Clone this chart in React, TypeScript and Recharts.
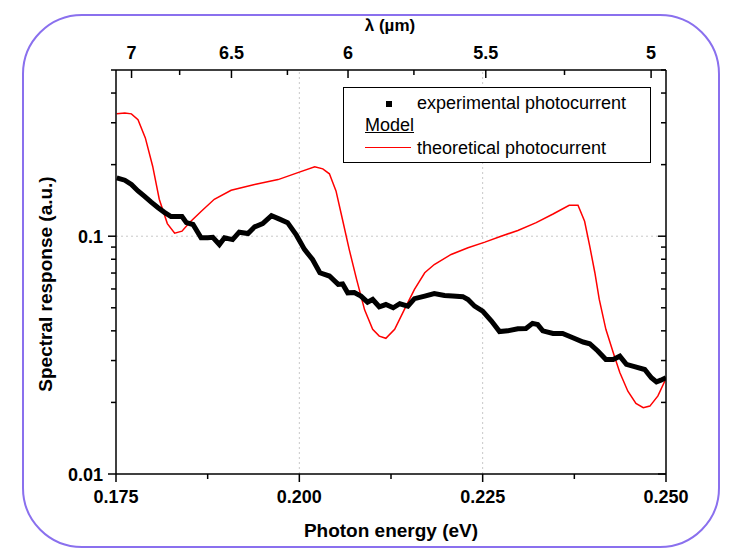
import React from 'react';
import { ComposedChart, Line, XAxis, YAxis, ReferenceLine, Legend } from 'recharts';

// ---- data ----
const expEnergy = [0.1751, 0.1762, 0.1771, 0.178, 0.1789, 0.1798, 0.1807, 0.1816, 0.1825, 0.1832, 0.184, 0.1846, 0.1855, 0.1866, 0.1875, 0.1882, 0.1891, 0.1898, 0.1909, 0.1918, 0.193, 0.1939, 0.195, 0.1962, 0.1973, 0.1984, 0.1996, 0.2007, 0.2018, 0.2028, 0.2041, 0.2053, 0.2059, 0.2066, 0.2075, 0.2084, 0.2093, 0.21, 0.2109, 0.2118, 0.2128, 0.2137, 0.2148, 0.2157, 0.2171, 0.2184, 0.2198, 0.2209, 0.2223, 0.223, 0.2239, 0.225, 0.2262, 0.2273, 0.2284, 0.2298, 0.2309, 0.2318, 0.2325, 0.2332, 0.2346, 0.2359, 0.2373, 0.2387, 0.2396, 0.2407, 0.2418, 0.2428, 0.2437, 0.2446, 0.2457, 0.2471, 0.248, 0.2487, 0.2493, 0.25];
const expValues = [0.176, 0.172, 0.165, 0.155, 0.147, 0.139, 0.132, 0.126, 0.121, 0.121, 0.121, 0.114, 0.112, 0.0985, 0.0985, 0.099, 0.0923, 0.0985, 0.0968, 0.104, 0.1026, 0.1095, 0.113, 0.122, 0.118, 0.114, 0.101, 0.088, 0.0798, 0.0702, 0.068, 0.0627, 0.063, 0.0578, 0.058, 0.056, 0.0528, 0.0542, 0.0505, 0.0516, 0.05, 0.052, 0.0508, 0.0546, 0.056, 0.0574, 0.0563, 0.056, 0.0557, 0.0542, 0.0508, 0.0484, 0.044, 0.0397, 0.04, 0.0408, 0.0409, 0.043, 0.0425, 0.04, 0.039, 0.039, 0.0374, 0.0359, 0.0353, 0.0329, 0.0303, 0.0303, 0.0313, 0.0289, 0.0283, 0.0275, 0.0254, 0.0244, 0.0248, 0.0254];

const thEnergy = [0.1751, 0.1762, 0.1771, 0.178, 0.179, 0.18, 0.1809, 0.182, 0.183, 0.184, 0.185, 0.1866, 0.1884, 0.1907, 0.1939, 0.1971, 0.2, 0.2021, 0.2032, 0.2041, 0.205, 0.2059, 0.2068, 0.2078, 0.2089, 0.21, 0.2109, 0.2118, 0.213, 0.2143, 0.2157, 0.2171, 0.2184, 0.2207, 0.223, 0.2253, 0.2275, 0.2298, 0.2323, 0.2346, 0.2368, 0.238, 0.2389, 0.2396, 0.2403, 0.2409, 0.2418, 0.2428, 0.2437, 0.2448, 0.2459, 0.2469, 0.2478, 0.2489, 0.25];
const thValues = [0.327, 0.33, 0.327, 0.309, 0.259, 0.197, 0.143, 0.113, 0.103, 0.105, 0.114, 0.127, 0.143, 0.156, 0.165, 0.173, 0.186, 0.196, 0.192, 0.183, 0.155, 0.117, 0.088, 0.066, 0.049, 0.0406, 0.038, 0.0372, 0.0406, 0.049, 0.0597, 0.0702, 0.076, 0.0838, 0.0894, 0.0944, 0.1, 0.1057, 0.114, 0.124, 0.135, 0.135, 0.1156, 0.0908, 0.0702, 0.0542, 0.0406, 0.0324, 0.0267, 0.0223, 0.0198, 0.019, 0.0193, 0.0213, 0.0252];

const energyMajorTicks = [0.175, 0.2, 0.225, 0.25];
const energyMinorTicks = [0.1875, 0.2125, 0.2375];
const energyGrid = [0.2, 0.225];
const lambdaMajorTicks = [7, 6.5, 6, 5.5, 5];
const lambdaMinorTicks = [6.75, 6.25, 5.75, 5.25];
const yMajorTicks = [0.01, 0.1];
const yMinorTicks = [0.02, 0.03, 0.04, 0.05, 0.06, 0.07, 0.08, 0.09, 0.2, 0.3, 0.4, 0.5];
const yGrid = [0.1];
const HC = 1.23984; // eV·µm

const expData = expEnergy.map((e, i) => ({ e, v: expValues[i] }));
const thData = thEnergy.map((e, i) => ({ e, v: thValues[i] }));
const bottomTicks = [...energyMajorTicks, ...energyMinorTicks];
const topMajorE = lambdaMajorTicks.map((l) => HC / l);
const topTicks = [...topMajorE, ...lambdaMinorTicks.map((l) => HC / l)];
const yTicks = [...yMajorTicks, ...yMinorTicks];

const FONT = '"Liberation Sans", Arial, Helvetica, sans-serif';

const BottomTick = (props: any) => {
  const { x, y, payload } = props;
  const major = energyMajorTicks.includes(payload.value);
  return (
    <g>
      <line x1={x} x2={x} y1={y} y2={y + (major ? 8 : 5)} stroke="#000" strokeWidth={1.5} />
      {major && (
        <text x={x} y={y + 29} textAnchor="middle" fontFamily={FONT} fontWeight="bold" fontSize={18} fill="#000">
          {payload.value.toFixed(3)}
        </text>
      )}
    </g>
  );
};

const TopTick = (props: any) => {
  const { x, y, payload } = props;
  const idx = topMajorE.indexOf(payload.value);
  const major = idx >= 0;
  return (
    <g>
      <line x1={x} x2={x} y1={y} y2={y + (major ? 8 : 5)} stroke="#000" strokeWidth={1.5} />
      {major && (
        <text x={x} y={y - 11} textAnchor="middle" fontFamily={FONT} fontWeight="bold" fontSize={18} fill="#000">
          {String(lambdaMajorTicks[idx])}
        </text>
      )}
    </g>
  );
};

const LeftTick = (props: any) => {
  const { x, y, payload } = props;
  const major = yMajorTicks.includes(payload.value);
  return (
    <g>
      <line x1={x} x2={x - (major ? 8 : 5)} y1={y} y2={y} stroke="#000" strokeWidth={1.5} />
      {major && (
        <text x={x - 13} y={y + 6.5} textAnchor="end" fontFamily={FONT} fontWeight="bold" fontSize={18} fill="#000">
          {String(payload.value)}
        </text>
      )}
    </g>
  );
};

const RightTick = (props: any) => {
  const { x, y, payload } = props;
  const major = yMajorTicks.includes(payload.value);
  return <line x1={x} x2={x - (major ? 8 : 5)} y1={y} y2={y} stroke="#000" strokeWidth={1.5} />;
};

const LegendBox = () => (
  <div
    style={{
      position: 'relative',
      width: 308,
      height: 76,
      border: '1.5px solid #000',
      background: '#fff',
      boxSizing: 'border-box',
      fontFamily: FONT,
      fontSize: 18,
      color: '#000',
    }}
  >
    <div style={{ position: 'absolute', left: 42, top: 12.5, width: 6, height: 6, background: '#000' }} />
    <div style={{ position: 'absolute', left: 73, top: 4, lineHeight: '22px', whiteSpace: 'nowrap' }}>
      experimental photocurrent
    </div>
    <div style={{ position: 'absolute', left: 21, top: 26, lineHeight: '22px', textDecoration: 'underline', whiteSpace: 'nowrap' }}>
      Model
    </div>
    <div style={{ position: 'absolute', left: 21, top: 59, width: 46, height: 0, borderTop: '1.5px solid #ff0000' }} />
    <div style={{ position: 'absolute', left: 73, top: 49, lineHeight: '22px', whiteSpace: 'nowrap' }}>
      theoretical photocurrent
    </div>
  </div>
);

export default function App() {
  return (
    <div style={{ position: 'absolute', left: 0, top: 0, width: 729, height: 554, background: '#fff' }}>
      <div
        style={{
          position: 'absolute',
          left: 22,
          top: 14,
          width: 698,
          height: 534,
          border: '2px solid #8a70ee',
          borderRadius: 60,
          boxSizing: 'border-box',
        }}
      />
      <div style={{ position: 'absolute', left: 0, top: 0 }}>
        <ComposedChart width={729} height={554} margin={{ top: 0, right: 0, bottom: 0, left: 0 }}>
          <XAxis
            xAxisId="bottom"
            orientation="bottom"
            type="number"
            dataKey="e"
            domain={[0.175, 0.25]}
            allowDataOverflow
            ticks={bottomTicks}
            interval={0}
            height={80}
            tickSize={0}
            tickMargin={0}
            tickLine={false}
            tick={<BottomTick />}
            axisLine={{ stroke: '#000', strokeWidth: 1.5 }}
            label={{
              content: (p: any) => (
                <text
                  x={p.viewBox.x + p.viewBox.width / 2}
                  y={p.viewBox.y + 63}
                  textAnchor="middle"
                  fontFamily={FONT}
                  fontWeight="bold"
                  fontSize={19}
                  fill="#000"
                >
                  Photon energy (eV)
                </text>
              ),
            }}
          />
          <XAxis
            xAxisId="top"
            orientation="top"
            type="number"
            dataKey="e"
            domain={[0.175, 0.25]}
            allowDataOverflow
            ticks={topTicks}
            interval={0}
            height={70}
            tickSize={0}
            tickMargin={0}
            tickLine={false}
            tick={<TopTick />}
            axisLine={{ stroke: '#000', strokeWidth: 1.5 }}
            label={{
              content: (p: any) => (
                <text
                  x={p.viewBox.x + p.viewBox.width / 2 - 1}
                  y={p.viewBox.y + 31}
                  textAnchor="middle"
                  fontFamily={FONT}
                  fontWeight="bold"
                  fontSize={17}
                  fill="#000"
                >
                  λ (µm)
                </text>
              ),
            }}
          />
          <YAxis
            yAxisId="left"
            orientation="left"
            type="number"
            scale="log"
            domain={[0.01, 0.5]}
            allowDataOverflow
            ticks={yTicks}
            interval={0}
            width={116}
            tickSize={0}
            tickMargin={0}
            tickLine={false}
            tick={<LeftTick />}
            axisLine={{ stroke: '#000', strokeWidth: 1.5 }}
            label={{
              content: (p: any) => (
                <text
                  x={45}
                  y={p.viewBox.y + p.viewBox.height / 2 + 12}
                  transform={`rotate(-90, 45, ${p.viewBox.y + p.viewBox.height / 2 + 12})`}
                  textAnchor="middle"
                  dominantBaseline="central"
                  fontFamily={FONT}
                  fontWeight="bold"
                  fontSize={19}
                  fill="#000"
                >
                  Spectral response (a.u.)
                </text>
              ),
            }}
          />
          <YAxis
            yAxisId="right"
            orientation="right"
            type="number"
            scale="log"
            domain={[0.01, 0.5]}
            allowDataOverflow
            ticks={yTicks}
            interval={0}
            width={63}
            tickSize={0}
            tickMargin={0}
            tickLine={false}
            tick={<RightTick />}
            axisLine={{ stroke: '#000', strokeWidth: 1.5 }}
          />
          {energyGrid.map((g) => (
            <ReferenceLine
              key={'gx' + g}
              x={g}
              xAxisId="bottom"
              yAxisId="left"
              stroke="#c8c8c8"
              strokeDasharray="2 3"
              strokeWidth={1}
            />
          ))}
          {yGrid.map((g) => (
            <ReferenceLine
              key={'gy' + g}
              y={g}
              xAxisId="bottom"
              yAxisId="left"
              stroke="#c8c8c8"
              strokeDasharray="2 3"
              strokeWidth={1}
            />
          ))}
          <Line
            data={thData}
            dataKey="v"
            xAxisId="bottom"
            yAxisId="left"
            type="linear"
            stroke="#ff0000"
            strokeWidth={1.5}
            dot={false}
            isAnimationActive={false}
            name="theoretical photocurrent"
          />
          <Line
            data={expData}
            dataKey="v"
            xAxisId="bottom"
            yAxisId="left"
            type="linear"
            stroke="#000"
            strokeWidth={5}
            dot={false}
            isAnimationActive={false}
            name="experimental photocurrent"
          />
          <Legend
            layout="horizontal"
            verticalAlign="middle"
            align="center"
            content={() => <LegendBox />}
            wrapperStyle={{ left: 343, top: 87, width: 308, height: 76 }}
          />
        </ComposedChart>
      </div>
    </div>
  );
}
